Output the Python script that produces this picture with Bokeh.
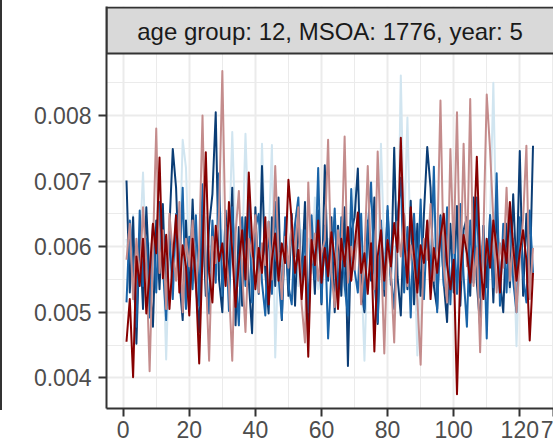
from bokeh.plotting import figure
from bokeh.models import Range1d, FixedTicker, Label, Div, CustomJSTickFormatter
from bokeh.layouts import row
from bokeh.embed import file_html
from bokeh.resources import INLINE

strip_title = "age group: 12, MSOA: 1776, year: 5"
x_ticks = [0, 20, 40, 60, 80, 100, 120]
edge_tick = 130.19          # partially visible label at the right edge
edge_tick_label = "7"
x_minor = [10, 30, 50, 70, 90, 110, 130]
y_ticks = [0.004, 0.005, 0.006, 0.007, 0.008]
y_minor = [0.0045, 0.0055, 0.0065, 0.0075, 0.0085]
y_labels = {0.004: "0.004", 0.005: "0.005", 0.006: "0.006", 0.007: "0.007", 0.008: "0.008"}

time = list(range(1, 125))

dark_red = [
    0.00455, 0.00520, 0.00401, 0.00585, 0.00540, 0.00612, 0.00498, 0.00560, 0.00635, 0.00590,
    0.00736, 0.00552, 0.00618, 0.00505, 0.00580, 0.00648, 0.00530, 0.00602, 0.00570, 0.00495,
    0.00612, 0.00545, 0.00422, 0.00588, 0.00744, 0.00560, 0.00515, 0.00632, 0.00578, 0.00605,
    0.00540, 0.00668, 0.00592, 0.00508, 0.00575, 0.00625, 0.00550, 0.00713, 0.00610, 0.00535,
    0.00598, 0.00560, 0.00645, 0.00512, 0.00580, 0.00620, 0.00548, 0.00605, 0.00575, 0.00702,
    0.00638, 0.00560, 0.00595, 0.00520, 0.00585, 0.00432, 0.00610, 0.00572, 0.00640, 0.00545,
    0.00598, 0.00555, 0.00622, 0.00580, 0.00505, 0.00612, 0.00570, 0.00630, 0.00548, 0.00600,
    0.00652, 0.00560, 0.00590, 0.00528, 0.00605, 0.00440, 0.00585, 0.00625, 0.00548, 0.00610,
    0.00570, 0.00636, 0.00592, 0.00766, 0.00610, 0.00545, 0.00660, 0.00588, 0.00530, 0.00602,
    0.00575, 0.00640, 0.00520, 0.00598, 0.00560, 0.00615, 0.00650, 0.00572, 0.00535, 0.00580,
    0.00375, 0.00560, 0.00618, 0.00590, 0.00545, 0.00602, 0.00737, 0.00580, 0.00520, 0.00612,
    0.00568, 0.00640, 0.00595, 0.00530, 0.00610, 0.00575, 0.00668, 0.00600, 0.00548, 0.00592,
    0.00625, 0.00580, 0.00457, 0.00560,
]

pink = [
    0.00580, 0.00635, 0.00520, 0.00612, 0.00548, 0.00660, 0.00575, 0.00410, 0.00598, 0.00780,
    0.00560, 0.00625, 0.00505, 0.00650, 0.00590, 0.00548, 0.00668, 0.00500, 0.00612, 0.00570,
    0.00640, 0.00535, 0.00598, 0.00800, 0.00560, 0.00426, 0.00615, 0.00575, 0.00650, 0.00868,
    0.00598, 0.00540, 0.00426, 0.00620, 0.00685, 0.00560, 0.00470, 0.00612, 0.00585, 0.00648,
    0.00530, 0.00605, 0.00572, 0.00638, 0.00550, 0.00723, 0.00592, 0.00520, 0.00615, 0.00568,
    0.00640, 0.00585, 0.00660, 0.00512, 0.00454, 0.00698, 0.00575, 0.00620, 0.00548, 0.00590,
    0.00610, 0.00763, 0.00560, 0.00508, 0.00625, 0.00580, 0.00768, 0.00545, 0.00600, 0.00565,
    0.00630, 0.00512, 0.00588, 0.00723, 0.00570, 0.00535, 0.00745, 0.00598, 0.00437, 0.00610,
    0.00560, 0.00454, 0.00638, 0.00585, 0.00650, 0.00540, 0.00602, 0.00575, 0.00520, 0.00420,
    0.00612, 0.00580, 0.00665, 0.00548, 0.00600, 0.00823, 0.00570, 0.00515, 0.00749, 0.00590,
    0.00805, 0.00548, 0.00757, 0.00570, 0.00825, 0.00540, 0.00598, 0.00439, 0.00620, 0.00832,
    0.00748, 0.00640, 0.00530, 0.00605, 0.00568, 0.00690, 0.00548, 0.00612, 0.00500, 0.00580,
    0.00642, 0.00754, 0.00520, 0.00598,
]

navy = [
    0.00701, 0.00530, 0.00645, 0.00452, 0.00620, 0.00505, 0.00660, 0.00545, 0.00478, 0.00640,
    0.00535, 0.00665, 0.00510, 0.00630, 0.00749, 0.00690, 0.00550, 0.00488, 0.00640, 0.00520,
    0.00672, 0.00545, 0.00470, 0.00648, 0.00525, 0.00632, 0.00680, 0.00805, 0.00550, 0.00500,
    0.00655, 0.00538, 0.00690, 0.00480, 0.00630, 0.00510, 0.00645, 0.00548, 0.00468, 0.00660,
    0.00528, 0.00723, 0.00560, 0.00498, 0.00645, 0.00540, 0.00675, 0.00488, 0.00632, 0.00525,
    0.00650, 0.00510, 0.00640, 0.00548, 0.00668, 0.00478, 0.00625, 0.00528, 0.00655, 0.00512,
    0.00724, 0.00548, 0.00645, 0.00500, 0.00632, 0.00525, 0.00660, 0.00418, 0.00622, 0.00645,
    0.00719, 0.00538, 0.00500, 0.00640, 0.00548, 0.00675, 0.00482, 0.00632, 0.00525, 0.00655,
    0.00542, 0.00751, 0.00555, 0.00495, 0.00648, 0.00535, 0.00670, 0.00512, 0.00635, 0.00525,
    0.00650, 0.00752, 0.00690, 0.00540, 0.00505, 0.00648, 0.00545, 0.00485, 0.00635, 0.00530,
    0.00662, 0.00510, 0.00625, 0.00645, 0.00525, 0.00675, 0.00545, 0.00478, 0.00632, 0.00538,
    0.00648, 0.00515, 0.00660, 0.00550, 0.00500, 0.00635, 0.00538, 0.00680, 0.00555, 0.00746,
    0.00525, 0.00650, 0.00545, 0.00754,
]

blue = [
    0.00515, 0.00640, 0.00560, 0.00478, 0.00655, 0.00540, 0.00612, 0.00492, 0.00635, 0.00530,
    0.00668, 0.00570, 0.00488, 0.00625, 0.00520, 0.00650, 0.00555, 0.00690, 0.00505, 0.00615,
    0.00535, 0.00648, 0.00510, 0.00695, 0.00575, 0.00498, 0.00640, 0.00545, 0.00712, 0.00525,
    0.00630, 0.00502, 0.00660, 0.00560, 0.00480, 0.00645, 0.00540, 0.00672, 0.00515, 0.00628,
    0.00650, 0.00545, 0.00495, 0.00638, 0.00528, 0.00668, 0.00555, 0.00490, 0.00645, 0.00540,
    0.00512, 0.00635, 0.00675, 0.00530, 0.00625, 0.00500, 0.00648, 0.00550, 0.00720, 0.00515,
    0.00632, 0.00460, 0.00560, 0.00658, 0.00520, 0.00645, 0.00540, 0.00495, 0.00688, 0.00565,
    0.00530, 0.00650, 0.00505, 0.00628, 0.00698, 0.00548, 0.00485, 0.00640, 0.00535, 0.00662,
    0.00555, 0.00505, 0.00645, 0.00705, 0.00530, 0.00630, 0.00492, 0.00650, 0.00545, 0.00672,
    0.00520, 0.00638, 0.00552, 0.00722, 0.00500, 0.00645, 0.00540, 0.00660, 0.00512, 0.00630,
    0.00528, 0.00665, 0.00555, 0.00478, 0.00640, 0.00545, 0.00675, 0.00522, 0.00632, 0.00460,
    0.00648, 0.00538, 0.00712, 0.00510, 0.00635, 0.00530, 0.00660, 0.00548, 0.00500, 0.00645,
    0.00555, 0.00515, 0.00655, 0.00560,
]

light_blue = [
    0.00612, 0.00560, 0.00648, 0.00520, 0.00598, 0.00713, 0.00570, 0.00605, 0.00540, 0.00625,
    0.00580, 0.00610, 0.00428, 0.00595, 0.00550, 0.00640, 0.00575, 0.00763, 0.00720, 0.00560,
    0.00612, 0.00535, 0.00598, 0.00570, 0.00645, 0.00520, 0.00610, 0.00580, 0.00548, 0.00625,
    0.00570, 0.00600, 0.00775, 0.00612, 0.00540, 0.00590, 0.00772, 0.00620, 0.00560, 0.00605,
    0.00548, 0.00757, 0.00590, 0.00612, 0.00755, 0.00431, 0.00598, 0.00570, 0.00630, 0.00552,
    0.00615, 0.00580, 0.00540, 0.00625, 0.00590, 0.00612, 0.00560, 0.00675, 0.00535, 0.00598,
    0.00570, 0.00612, 0.00548, 0.00605, 0.00580, 0.00640, 0.00525, 0.00598, 0.00560, 0.00690,
    0.00615, 0.00575, 0.00426, 0.00598, 0.00560, 0.00630, 0.00548, 0.00757, 0.00590, 0.00612,
    0.00570, 0.00600, 0.00548, 0.00861, 0.00620, 0.00797, 0.00580, 0.00610, 0.00434, 0.00598,
    0.00560, 0.00625, 0.00585, 0.00540, 0.00612, 0.00570, 0.00648, 0.00530, 0.00600, 0.00575,
    0.00618, 0.00545, 0.00590, 0.00612, 0.00560, 0.00635, 0.00578, 0.00520, 0.00605, 0.00568,
    0.00640, 0.00850, 0.00590, 0.00548, 0.00612, 0.00575, 0.00530, 0.00620, 0.00448, 0.00598,
    0.00570, 0.00612, 0.00585, 0.00600,
]

series = [
    (light_blue, "#D1E5F0"),
    (navy, "#0B3D75"),
    (blue, "#1A64A8"),
    (pink, "#C48C8C"),
    (dark_red, "#870000"),
]

FONT = "Liberation Sans"
Y0, Y1 = 0.003532, 0.009662
X0, X1 = -5.05, 130.2
PXY = (Y1 - Y0) / 402.0  # data per pixel (y)

p = figure(frame_width=447, frame_height=402,
           x_range=Range1d(X0, X1), y_range=Range1d(Y0, Y1),
           min_border_left=104, min_border_right=0, min_border_top=6, min_border_bottom=40,
           output_backend="svg", toolbar_location=None, margin=0)
p.outline_line_color = None
p.background_fill_color = "white"
p.border_fill_color = "white"

for vals, col in series:
    p.line(time, vals, line_color=col, line_width=2, line_join="round")

# strip header
p.quad(left=[X0], right=[X1 + 20], top=[Y1 - 1 * PXY], bottom=[Y1 - 47 * PXY],
       fill_color="#D9D9D9", line_color="#333333", line_width=2)
p.add_layout(Label(x=(X0 + X1) / 2, y=Y1 - 25 * PXY, text=strip_title,
                   text_align="center", text_baseline="middle",
                   text_font=FONT, text_font_size="24px", text_color="#1A1A1A"))

p.xaxis.ticker = FixedTicker(ticks=x_ticks + [edge_tick], minor_ticks=x_minor)
p.xaxis.formatter = CustomJSTickFormatter(
    args=dict(edge=edge_tick, lab=edge_tick_label),
    code="return tick > edge - 1 ? lab : tick.toFixed(0);")
p.yaxis.ticker = FixedTicker(ticks=y_ticks, minor_ticks=y_minor)
p.yaxis.major_label_overrides = y_labels

for ax in (p.xaxis[0], p.yaxis[0]):
    ax.axis_line_color = "#333333"
    ax.axis_line_width = 2
    ax.major_tick_line_color = "#333333"
    ax.major_tick_line_width = 2
    ax.major_tick_out = 8
    ax.major_tick_in = 0
    ax.minor_tick_out = 0
    ax.minor_tick_in = 0
    ax.major_label_text_font = FONT
    ax.major_label_text_font_size = "23px"
    ax.major_label_text_color = "#4D4D4D"
p.xaxis.major_label_standoff = 4
p.yaxis.major_label_standoff = 7

for g in (p.xgrid[0], p.ygrid[0]):
    g.grid_line_color = "#EBEBEB"
    g.grid_line_width = 2
    g.minor_grid_line_color = "#EBEBEB"
    g.minor_grid_line_width = 1

# border line of the neighbouring panel at the far left
edge = Div(text="", width=2, height=410, margin=0,
           styles={"background-color": "#333333"})

layout = row(edge, p, spacing=0, margin=0)
open("out.html", "w").write(file_html(layout, INLINE))
